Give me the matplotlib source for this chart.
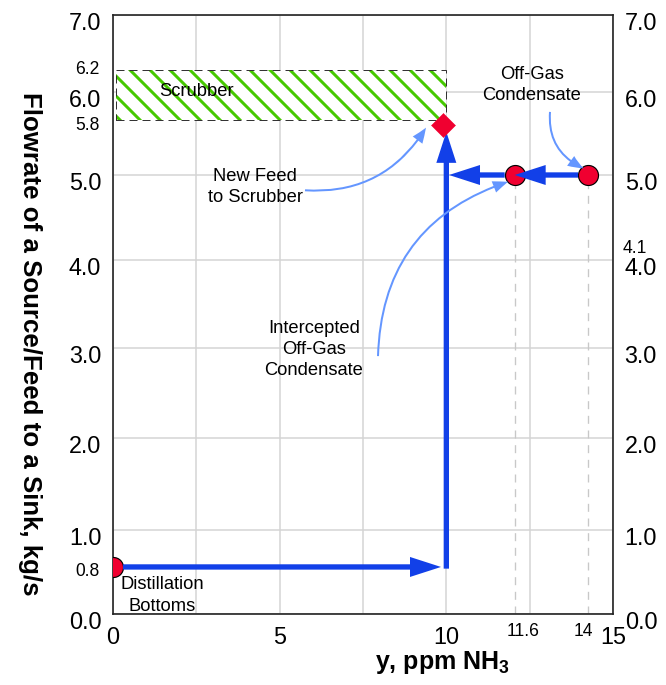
import numpy as np
import matplotlib
matplotlib.use("Agg")
import matplotlib.pyplot as plt
from matplotlib.patches import Rectangle
from matplotlib.transforms import ScaledTranslation, blended_transform_factory

plt.rcParams['font.family'] = ['Liberation Sans', 'DejaVu Sans']
plt.rcParams['mathtext.fontset'] = 'custom'
plt.rcParams['mathtext.rm'] = 'Liberation Sans'
plt.rcParams['mathtext.bf'] = 'Liberation Sans:bold'
plt.rcParams['hatch.linewidth'] = 1.8

# ---------------- data (values as drawn in the picture) ----------------
# source points: Distillation Bottoms, Intercepted Off-Gas Condensate, Off-Gas Condensate
source_x = [0.0, 12.05, 14.25]
source_y = [0.56, 5.0, 5.0]
# new feed to scrubber
feed_x = [9.9]
feed_y = [5.60]
# scrubber sink band
scrubber_x = [0.1, 10.0]
scrubber_y = [5.66, 6.29]
# composite source path segments (start -> end)
path_x0 = [0.0, 10.0, 14.25, 12.05]
path_y0 = [0.56, 0.54, 5.0, 5.0]
path_x1 = [9.84, 10.0, 12.05, 10.08]
path_y1 = [0.56, 5.52, 5.0, 5.0]
path_shrink_start = [6, 0, 6, 6]
# axis ticks
x_ticks = [0, 2.5, 5, 7.5, 10, 12.5, 15]
x_tick_labels = ['0', '', '5', '', '10', '', '15']
y_ticks = [0, 1, 2, 3, 4, 5, 6, 7]
y_tick_labels = ['0.0', '1.0', '2.0', '3.0', '4.0', '5.0', '6.0', '7.0']
# extra value labels
left_extra_y = [6.29, 5.60, 0.51]
left_extra_text = ['6.2', '5.8', '0.8']
right_extra_y = [4.14]
right_extra_text = ['4.1']
x_extra_x = [12.05, 14.25]
x_extra_text = ['11.6', '14']
x_extra_shift_px = [8, -5]
# y-axis scale break-points (non-uniform axis of the drawing)
scale_vals = np.array([0, 1, 2, 3, 4, 5, 6, 7], float)
scale_pos = np.array([0, 84, 176, 266, 354, 439, 522, 599], float)


def _pw(v, a, b):
    v = np.asarray(v, float)
    out = np.interp(v, a, b)
    lo = b[0] + (v - a[0]) * (b[1] - b[0]) / (a[1] - a[0])
    hi = b[-1] + (v - a[-1]) * (b[-1] - b[-2]) / (a[-1] - a[-2])
    out = np.where(v < a[0], lo, out)
    out = np.where(v > a[-1], hi, out)
    return out


def fwd(v):
    return _pw(v, scale_vals, scale_pos)


def inv(p):
    return _pw(p, scale_pos, scale_vals)


DPI = 120
fig = plt.figure(figsize=(666 / DPI, 685 / DPI), dpi=DPI)
ax = fig.add_axes([113 / 666, 1 - 614 / 685, 500 / 666, 599 / 685])
ax.set_yscale('function', functions=(fwd, inv))
ax.set_xlim(0, 15)
ax.set_ylim(0, 7)

blue = '#1240E8'
red = '#F00030'
lightblue = '#6496FF'
green = '#46C800'

ax.set_xticks(x_ticks)
ax.set_xticklabels(x_tick_labels, fontsize=14)
ax.set_yticks(y_ticks)
ax.set_yticklabels(y_tick_labels, fontsize=14)
ax.yaxis.set_minor_locator(matplotlib.ticker.NullLocator())
ax.tick_params(axis='both', length=0)
ax.tick_params(axis='x', pad=7)
ax.tick_params(axis='y', pad=7, labelleft=True, labelright=True)
ax.grid(True, color='#D4D4D4', lw=0.9, zorder=0)
ax.set_axisbelow(True)
for s in ax.spines.values():
    s.set_color('#222222')
    s.set_linewidth(1.0)

off = ScaledTranslation(0, -6 / DPI, fig.dpi_scale_trans)
for t in ax.yaxis.get_major_ticks():
    t.label1.set_transform(t.label1.get_transform() + off)
    t.label2.set_transform(t.label2.get_transform() + off)

# scrubber band
sx0, sx1 = scrubber_x
sy0, sy1 = scrubber_y
ax.add_patch(Rectangle((sx0, sy0), sx1 - sx0, sy1 - sy0, facecolor='white',
                       edgecolor=green, hatch='\\\\', lw=0, zorder=1))
ax.add_patch(Rectangle((sx0, sy0), sx1 - sx0, sy1 - sy0, facecolor='none',
                       edgecolor='#333333', lw=0.6, linestyle=(0, (8, 5)), zorder=2))
ax.text((sx0 + sx1) / 2 - 2.55, (sy0 + sy1) / 2 + 0.03, 'Scrubber', fontsize=11,
        ha='center', va='center', zorder=3)

# dashed drop lines for the condensate sources
ax.vlines(source_x[1:], 0, source_y[1:], colors='#C8C8C8', lw=0.8,
          linestyles=(0, (6, 5)), zorder=2)

# source markers
ax.plot(source_x, source_y, 'o', ms=12, mfc=red, mec='black', mew=0.7,
        zorder=4, linestyle='none')
ax.plot(feed_x, feed_y, 'D', ms=10, mfc=red, mec=red, mew=0.3, zorder=6,
        linestyle='none')

# composite path arrows
ms = 10
for x0, y0, x1, y1, sh in zip(path_x0, path_y0, path_x1, path_y1, path_shrink_start):
    ax.annotate('', xy=(x1, y1), xytext=(x0, y0),
                arrowprops=dict(arrowstyle=f'simple,head_length={18.6/ms},head_width={12/ms},tail_width={3.2/ms}',
                                connectionstyle='arc3,rad=0', fc=blue, ec='none', lw=0,
                                shrinkA=sh, shrinkB=0, mutation_scale=ms),
                zorder=5)

# text labels and pointers
ax.text(1.47, 0.22, 'Distillation\nBottoms', fontsize=11, ha='center', va='center',
        linespacing=1.35, zorder=7)
ax.text(12.57, 6.09, 'Off-Gas\nCondensate', fontsize=11, ha='center', va='center',
        linespacing=1.35, zorder=7)
ax.text(4.26, 4.86, 'New Feed\nto Scrubber', fontsize=11, ha='center', va='center',
        linespacing=1.25, zorder=7)
ax.text(6.03, 2.98, 'Intercepted\nOff-Gas\nCondensate', fontsize=11, ha='center',
        va='center', linespacing=1.32, zorder=7)

pointer_style = f'simple,head_length={9/ms},head_width={7.2/ms},tail_width={1.2/ms}'
pointers = [((5.76, 4.82), (9.39, 5.57), 0.3),
            ((7.95, 2.91), (11.85, 4.92), -0.35),
            ((13.11, 5.76), (14.12, 5.08), 0.35)]
for (xs, ys), (xe, ye), rad in pointers:
    ax.annotate('', xy=(xe, ye), xytext=(xs, ys),
                arrowprops=dict(arrowstyle=pointer_style,
                                connectionstyle=f'arc3,rad={rad}', fc=lightblue,
                                ec='none', lw=0, shrinkA=0, shrinkB=0,
                                mutation_scale=ms),
                zorder=5)

# extra value labels
tl = blended_transform_factory(ax.transAxes, ax.transData)
for yv, s in zip(left_extra_y, left_extra_text):
    ax.text(-13 / 500, yv, s, transform=tl, fontsize=10.5, ha='right', va='center')
for yv, s in zip(right_extra_y, right_extra_text):
    ax.text(1 + 10 / 500, yv, s, transform=tl, fontsize=10.5, ha='left', va='center')
tb = blended_transform_factory(ax.transData, ax.transAxes)
for xv, s, dx in zip(x_extra_x, x_extra_text, x_extra_shift_px):
    t = ax.text(xv, -18 / 599, s, transform=tb, fontsize=10.5, ha='center', va='center')
    t.set_transform(tb + ScaledTranslation(dx / DPI, 0, fig.dpi_scale_trans))

ax.set_xlabel('y, ppm NH$_\\mathbf{3}$', fontsize=15, fontweight='bold', va='center')
ax.xaxis.set_label_coords((443 - 113) / 500, (614 - 662) / 599)
ax.set_ylabel('Flowrate of a Source/Feed to a Sink, kg/s', fontsize=15.5,
              fontweight='bold', rotation=270, va='center', ha='center')
ax.yaxis.set_label_coords((30 - 113) / 500, (614 - 344) / 599)

fig.savefig('out.png', dpi=DPI)
